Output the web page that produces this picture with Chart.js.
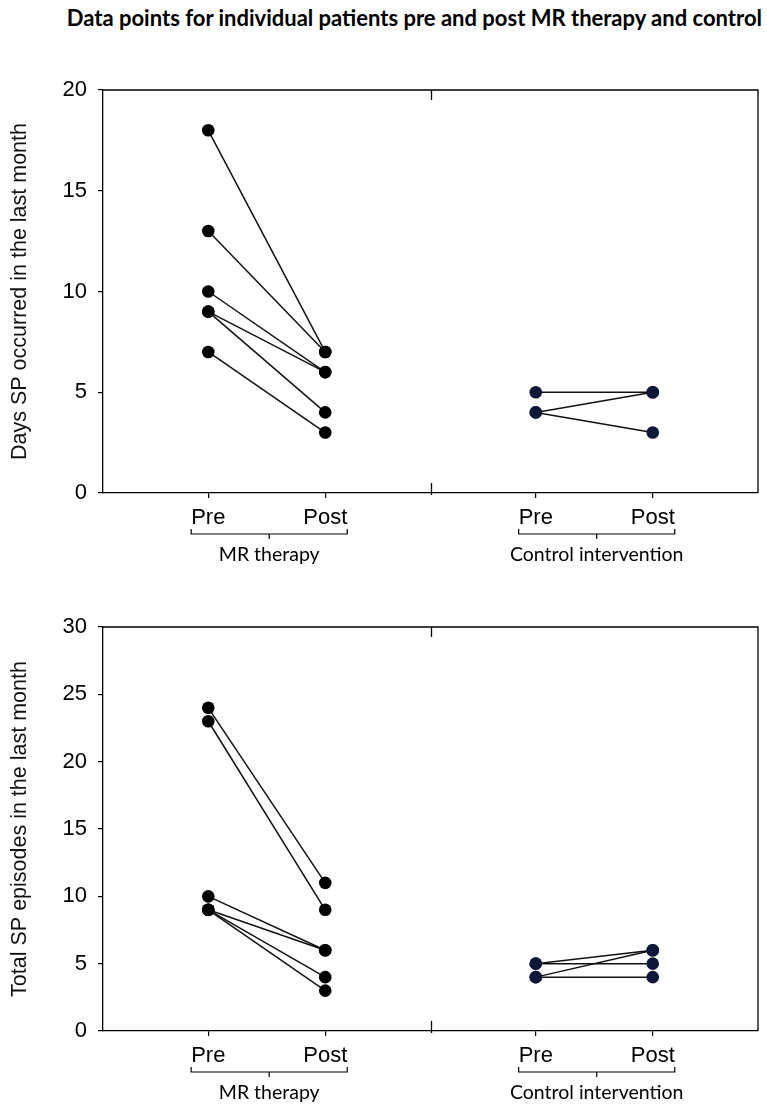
<!DOCTYPE html>
<html><head><meta charset="utf-8">
<script src="https://cdn.jsdelivr.net/npm/chart.js@4"></script>
<style>
html,body{margin:0;padding:0;background:#fff;width:767px;height:1106px;overflow:hidden}
#title{position:absolute;right:5px;top:4px;white-space:nowrap;font:bold 22px Lato,"Open Sans",sans-serif;color:#000;line-height:28px}
.wrap{position:absolute;left:0;width:767px}
</style></head><body>
<div id="title">Data points for individual patients pre and post MR therapy and control</div>
<div class="wrap" style="top:60px;height:540px"><canvas id="c1"></canvas></div>
<div class="wrap" style="top:597px;height:509px"><canvas id="c2"></canvas></div>
<script>
// ---- data ----
const phases = ["Pre", "Post"];
const groups = ["MR therapy", "Control intervention"];
// each pair = [pre, post] for one patient
const daysMR = [[18, 7], [13, 7], [10, 6], [9, 6], [9, 4], [7, 3]];
const daysControl = [[5, 5], [4, 5], [4, 3]];
const episodesMR = [[24, 11], [23, 9], [10, 6], [9, 6], [9, 4], [9, 3]];
const episodesControl = [[5, 6], [4, 6], [5, 5], [4, 4]];
const daysTicks = [0, 5, 10, 15, 20];
const episodesTicks = [0, 5, 10, 15, 20, 25, 30];
const daysTitle = "Days SP occurred in the last month";
const episodesTitle = "Total SP episodes in the last month";

// ---- layout (x positions on a linear axis) ----
const xPos = [[0.9, 1.9], [3.7, 4.7]];
const xSep = 2.8, xMin = 0, xMax = 5.6;
const MR_COLOR = "#000000", CTRL_COLOR = "#0d1838";
const TICK_FONT = {family: "'Liberation Sans', Arial, sans-serif", size: 22};
const GROUP_FONT = "19.5px Lato, 'Open Sans', sans-serif";

function makeDatasets(mr, ctrl) {
  const ds = [];
  mr.forEach(p => ds.push({data: p.map((v, i) => ({x: xPos[0][i], y: v})), color: MR_COLOR}));
  ctrl.forEach(p => ds.push({data: p.map((v, i) => ({x: xPos[1][i], y: v})), color: CTRL_COLOR}));
  return ds.map(d => ({
    data: d.data, showLine: true, borderColor: "#111", borderWidth: 1.5,
    pointRadius: 6.3, pointHoverRadius: 6.3, pointBackgroundColor: d.color,
    pointBorderColor: d.color, pointBorderWidth: 0
  }));
}

const decor = {
  id: "decor",
  afterDraw(chart) {
    const {ctx, chartArea: a, scales} = chart;
    const xs = scales.x;
    ctx.save();
    ctx.strokeStyle = "#000"; ctx.lineWidth = 1.3;
    ctx.beginPath();
    ctx.moveTo(a.left, a.top); ctx.lineTo(a.right, a.top); ctx.lineTo(a.right, a.bottom);
    const sx = Math.round(xs.getPixelForValue(xSep)) + 0.5;
    ctx.moveTo(sx, a.top); ctx.lineTo(sx, a.top + 10);
    ctx.moveTo(sx, a.bottom + 2); ctx.lineTo(sx, a.bottom - 10);
    ctx.stroke();
    // brackets & group labels
    ctx.font = TICK_FONT.size + "px " + TICK_FONT.family;
    const by = a.bottom + 41;
    ctx.lineWidth = 1.2;
    groups.forEach((g, gi) => {
      const p0 = xs.getPixelForValue(xPos[gi][0]);
      const p1 = xs.getPixelForValue(xPos[gi][1]);
      const l = p0 - ctx.measureText(phases[0]).width / 2;
      const r = p1 + ctx.measureText(phases[1]).width / 2;
      const c = (l + r) / 2;
      ctx.beginPath();
      ctx.moveTo(l, by - 5); ctx.lineTo(l, by); ctx.lineTo(r, by); ctx.lineTo(r, by - 5);
      ctx.moveTo(c, by); ctx.lineTo(c, by + 5);
      ctx.stroke();
      ctx.save();
      ctx.font = GROUP_FONT; ctx.fillStyle = "#000";
      ctx.textAlign = "center"; ctx.textBaseline = "middle";
      ctx.fillText(g, c, a.bottom + 62);
      ctx.restore();
    });
    ctx.restore();
  }
};

function makeChart(id, mr, ctrl, ticks, title, xAxisH) {
  new Chart(document.getElementById(id), {
    type: "scatter",
    data: {datasets: makeDatasets(mr, ctrl)},
    options: {
      responsive: true, maintainAspectRatio: false, animation: false,
      layout: {padding: {top: 30, right: 9, left: 0, bottom: 0}},
      plugins: {legend: {display: false}, tooltip: {enabled: false}},
      scales: {
        x: {
          type: "linear", min: xMin, max: xMax,
          afterBuildTicks: s => { s.ticks = xPos.flat().map(v => ({value: v})); },
          afterFit: s => { s.height = xAxisH; },
          ticks: {autoSkip: false, maxRotation: 0, color: "#000", font: TICK_FONT, padding: 7,
                  callback: (v, i) => phases[i % 2]},
          grid: {drawOnChartArea: false, drawTicks: true, tickLength: 5, color: "#000", lineWidth: 1.2},
          border: {display: true, color: "#000", width: 1.3}
        },
        y: {
          min: ticks[0], max: ticks[ticks.length - 1],
          afterBuildTicks: s => { s.ticks = ticks.map(v => ({value: v})); },
          afterFit: s => { s.width = 103; },
          ticks: {color: "#000", font: TICK_FONT, padding: 11},
          grid: {drawOnChartArea: false, drawTicks: true, tickLength: 5, color: "#000", lineWidth: 1.2},
          border: {display: true, color: "#000", width: 1.3},
          title: {display: true, text: title, color: "#111",
                  font: {family: "'Liberation Sans', Arial, sans-serif", size: 21.5}, padding: {top: 7, bottom: 0}}
        }
      }
    },
    plugins: [decor]
  });
}

makeChart("c1", daysMR, daysControl, daysTicks, daysTitle, 107);
makeChart("c2", episodesMR, episodesControl, episodesTicks, episodesTitle, 75);
</script>
</body></html>
